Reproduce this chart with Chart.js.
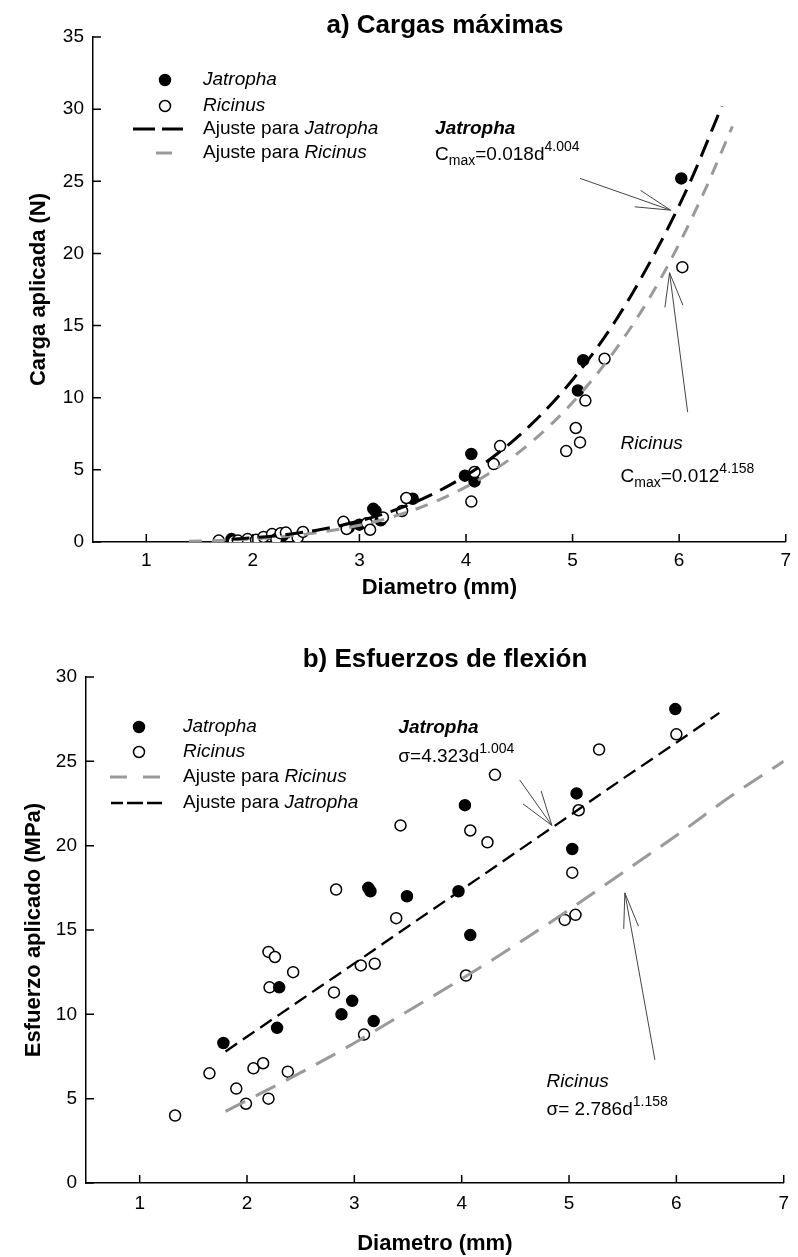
<!DOCTYPE html>
<html><head><meta charset="utf-8">
<script src="https://cdn.jsdelivr.net/npm/chart.js@4.4.1/dist/chart.umd.min.js"></script>
<style>
html,body{margin:0;padding:0;background:#fff;}
#wrap{position:relative;width:798px;height:1257px;overflow:hidden;}
.box{position:absolute;left:0;width:798px;}
canvas{display:block;}
</style></head><body>
<div id="wrap">
<div class="box" style="top:0;height:610px"><canvas id="c1" width="798" height="610"></canvas></div>
<div class="box" style="top:610px;height:647px"><canvas id="c2" width="798" height="647"></canvas></div>
</div>
<script>
// ---------- DATA ----------
const xTicks = [1, 2, 3, 4, 5, 6, 7];
const yTicksA = [0, 5, 10, 15, 20, 25, 30, 35];
const yTicksB = [0, 5, 10, 15, 20, 25, 30];

// a) Cargas máximas
const jatDiamA = [1.80, 2.28, 2.30, 2.90, 3.00, 3.13, 3.15, 3.20, 3.50, 3.99, 4.05, 4.08, 5.05, 5.10, 6.02];
const jatLoadA = [0.20, 0.45, 0.60, 1.00, 1.20, 2.30, 2.15, 1.50, 3.00, 4.60, 6.10, 4.20, 10.5, 12.6, 25.2];
const ricDiamA = [1.68, 1.82, 1.86, 1.95, 2.03, 2.10, 2.18, 2.22, 2.26, 2.31, 2.42, 2.47, 2.85, 2.88, 3.07, 3.10, 3.22, 3.40, 3.44, 4.05, 4.08, 4.26, 4.32, 4.94, 5.03, 5.07, 5.12, 5.30, 6.03];
const ricLoadA = [0.10, 0.05, 0.10, 0.20, 0.15, 0.35, 0.55, 0.20, 0.60, 0.65, 0.30, 0.70, 1.40, 0.90, 1.30, 0.85, 1.70, 2.15, 3.05, 2.80, 4.85, 5.40, 6.65, 6.30, 7.90, 6.90, 9.80, 12.7, 19.05];
const jatFitDiamA = [1.8, 2.2, 2.6, 3.0, 3.4, 3.8, 4.2, 4.6, 5.0, 5.4, 5.8, 6.1, 6.4];
const jatFitLoadA = [0.19, 0.42, 0.82, 1.46, 2.40, 3.75, 5.6, 8.06, 11.25, 15.3, 20.4, 24.9, 30.2];
const ricFitDiamA = [1.4, 1.8, 2.2, 2.6, 3.0, 3.4, 3.8, 4.2, 4.6, 5.0, 5.4, 5.8, 6.2, 6.5];
const ricFitLoadA = [0.05, 0.14, 0.32, 0.64, 1.16, 1.95, 3.09, 4.68, 6.84, 9.67, 13.3, 17.9, 23.7, 28.8];

// b) Esfuerzos de flexión
const jatDiamB = [1.78, 2.28, 2.30, 2.88, 2.98, 3.13, 3.15, 3.18, 3.49, 3.97, 4.03, 4.08, 5.03, 5.07, 5.99];
const jatStressB = [8.3, 9.2, 11.6, 10.0, 10.8, 17.5, 17.3, 9.6, 17.0, 17.3, 22.4, 14.7, 19.8, 23.1, 28.1];
const ricDiamB = [1.33, 1.65, 1.90, 1.99, 2.06, 2.15, 2.20, 2.20, 2.26, 2.21, 2.38, 2.43, 2.83, 2.81, 3.06, 3.09, 3.19, 3.39, 3.43, 4.04, 4.08, 4.24, 4.31, 4.96, 5.03, 5.06, 5.09, 5.28, 6.00];
const ricStressB = [4.0, 6.5, 5.6, 4.7, 6.8, 7.1, 5.0, 13.7, 13.4, 11.6, 6.6, 12.5, 17.4, 11.3, 12.9, 8.8, 13.0, 15.7, 21.2, 12.3, 20.9, 20.2, 24.2, 15.6, 18.4, 15.9, 22.1, 25.7, 26.6];
const jatFitDiamB = [1.8, 2.5, 3.0, 3.5, 4.0, 4.5, 5.0, 5.5, 6.0, 6.4];
const jatFitStressB = [7.80, 10.85, 13.02, 15.21, 17.39, 19.58, 21.76, 23.96, 26.11, 27.87];
const ricFitDiamB = [1.8, 2.5, 3.0, 3.5, 4.0, 4.5, 5.0, 5.5, 6.0, 6.5, 7.0];
const ricFitStressB = [4.25, 6.54, 8.3, 10.2, 12.1, 14.1, 16.2, 18.4, 20.6, 22.9, 25.0];

// ---------- HELPERS ----------
const F = '"Liberation Sans", Arial, Helvetica, sans-serif';
Chart.defaults.font.family = F;
const zip = (xs, ys) => xs.map((x, i) => ({x: x, y: ys[i]}));

function fnt(st, size) {
  const it = st.includes('i') ? 'italic ' : '';
  const b = st.includes('b') ? 'bold ' : '';
  return it + b + size + 'px ' + F;
}
function drawParts(ctx, x, y, parts, size) {
  let cx = x;
  for (const [t, st] of parts) {
    let s = size, dy = 0, style = st;
    if (st === 'sub') { s = Math.round(size * 0.74); dy = 5; style = ''; }
    else if (st === 'sup') { s = Math.round(size * 0.74); dy = -9; style = ''; }
    ctx.font = fnt(style, s);
    ctx.fillText(t, cx, y + dy);
    cx += ctx.measureText(t).width;
  }
}
function arrow(ctx, x1, y1, x2, y2, len, ang) {
  ctx.beginPath();
  ctx.moveTo(x1, y1); ctx.lineTo(x2, y2);
  const a = Math.atan2(y1 - y2, x1 - x2);
  [-1, 1].forEach(s => {
    ctx.moveTo(x2, y2);
    ctx.lineTo(x2 + len * Math.cos(a + s * ang), y2 + len * Math.sin(a + s * ang));
  });
  ctx.stroke();
}

const decoPlugin = {
  id: 'deco',
  afterDraw(chart, args, o) {
    const ctx = chart.ctx, xs = chart.scales.x, ys = chart.scales.y, ca = chart.chartArea;
    ctx.save();
    // inward tick marks
    ctx.strokeStyle = '#000'; ctx.lineWidth = 1.5;
    ctx.beginPath();
    xs.ticks.forEach(t => { const p = xs.getPixelForValue(t.value); ctx.moveTo(p, ca.bottom); ctx.lineTo(p, ca.bottom - o.tickLen); });
    ys.ticks.forEach(t => { const p = ys.getPixelForValue(t.value); ctx.moveTo(ca.left, p); ctx.lineTo(ca.left + o.tickLen, p); });
    ctx.stroke();
    // title
    ctx.fillStyle = '#000'; ctx.textAlign = 'center'; ctx.textBaseline = 'middle';
    ctx.font = 'bold ' + o.title.size + 'px ' + F;
    ctx.fillText(o.title.text, o.title.x != null ? o.title.x : (ca.left + ca.right) / 2, o.title.y);
    // legend
    ctx.textAlign = 'left';
    o.legend.forEach(it => {
      if (it.kind === 'dot') {
        ctx.beginPath(); ctx.arc(it.mx, it.y, 5.5, 0, 2 * Math.PI);
        ctx.fillStyle = it.fill; ctx.fill();
        ctx.lineWidth = 1.5; ctx.strokeStyle = '#000'; ctx.stroke();
      } else {
        ctx.strokeStyle = it.color; ctx.lineWidth = it.width;
        ctx.beginPath();
        it.segs.forEach(([a, b]) => { ctx.moveTo(a, it.y); ctx.lineTo(b, it.y); });
        ctx.stroke();
      }
      ctx.fillStyle = '#000'; ctx.textBaseline = 'middle';
      drawParts(ctx, it.tx, it.y, it.parts, o.fontSize);
    });
    // notes
    ctx.textBaseline = 'alphabetic'; ctx.fillStyle = '#000';
    o.notes.forEach(n => drawParts(ctx, xs.getPixelForValue(n.x), ys.getPixelForValue(n.y), n.parts, o.fontSize));
    // arrows
    ctx.strokeStyle = '#444'; ctx.lineWidth = 1;
    o.arrows.forEach(a => arrow(ctx, xs.getPixelForValue(a.x1), ys.getPixelForValue(a.y1),
      xs.getPixelForValue(a.x2), ys.getPixelForValue(a.y2), a.len, a.ang * Math.PI / 180));
    ctx.restore();
  }
};

function makeScales(cfg) {
  return {
    x: {
      type: 'linear', min: 0.5, max: 7,
      afterBuildTicks: s => { s.ticks = xTicks.map(v => ({value: v})); },
      afterFit: s => { s.height = cfg.xH; },
      grid: {display: false, drawTicks: false},
      border: {display: true, color: '#000', width: 1.5},
      ticks: {padding: cfg.xPad, color: '#000', font: {family: F, size: 19}, callback: v => String(v), maxRotation: 0, autoSkip: false},
      title: {display: true, text: 'Diametro (mm)', color: '#000', font: {family: F, size: 22, weight: 'bold'}, padding: {top: 0, bottom: cfg.xTitlePad}}
    },
    y: {
      type: 'linear', min: 0, max: cfg.yMax,
      afterBuildTicks: s => { s.ticks = cfg.yTicks.map(v => ({value: v})); },
      afterFit: s => { s.width = cfg.yW; },
      grid: {display: false, drawTicks: false},
      border: {display: true, color: '#000', width: 1.5},
      ticks: {padding: 9, color: '#000', font: {family: F, size: 19}, callback: v => String(v), autoSkip: false},
      title: {display: true, text: cfg.yTitle, color: '#000', font: {family: F, size: 22, weight: 'bold'}, padding: {top: cfg.yTitlePad, bottom: 0}}
    }
  };
}

function fitSet(label, xs, ys, color, width, dash) {
  return {label: label, data: zip(xs, ys), showLine: true, borderColor: color, borderWidth: width,
    borderDash: dash, pointRadius: 0, fill: false, tension: 0.4, cubicInterpolationMode: 'monotone'};
}
function ptSet(label, xs, ys, fill) {
  return {label: label, data: zip(xs, ys), showLine: false, pointRadius: 5.5, pointStyle: 'circle',
    backgroundColor: fill, borderColor: '#000', pointBorderWidth: 1.5};
}

// ---------- CHART a ----------
new Chart(document.getElementById('c1'), {
  type: 'scatter',
  data: {datasets: [
    fitSet('Ajuste para Jatropha', jatFitDiamA, jatFitLoadA, '#000', 3, [18, 9]),
    fitSet('Ajuste para Ricinus', ricFitDiamA, ricFitLoadA, '#9a9a9a', 3, [13, 10]),
    ptSet('Ricinus', ricDiamA, ricLoadA, '#fff'),
    ptSet('Jatropha', jatDiamA, jatLoadA, '#000')
  ]},
  options: {
    responsive: false, animation: false, events: [],
    layout: {padding: {top: 37, right: 3, left: 0, bottom: 0}},
    scales: makeScales({xH: 68, xPad: 7, xTitlePad: 9, yMax: 35, yTicks: yTicksA, yW: 93, yTitle: 'Carga aplicada (N)', yTitlePad: 26}),
    plugins: {
      legend: {display: false}, tooltip: {enabled: false},
      deco: {
        tickLen: 8, fontSize: 19,
        title: {text: 'a) Cargas máximas', size: 26, x: 445, y: 26},
        legend: [
          {kind: 'dot', fill: '#000', mx: 165, y: 80, tx: 203, parts: [['Jatropha', 'i']]},
          {kind: 'dot', fill: '#fff', mx: 165, y: 106, tx: 203, parts: [['Ricinus', 'i']]},
          {kind: 'line', color: '#000', width: 3, segs: [[133, 155], [162, 183]], y: 129, tx: 203, parts: [['Ajuste para ', ''], ['Jatropha', 'i']]},
          {kind: 'line', color: '#9a9a9a', width: 3, segs: [[156, 172]], y: 153, tx: 203, parts: [['Ajuste para ', ''], ['Ricinus', 'i']]}
        ],
        notes: [
          {x: 3.71, y: 28.3, parts: [['Jatropha', 'bi']]},
          {x: 3.71, y: 26.5, parts: [['C', ''], ['max', 'sub'], ['=0.018d', ''], ['4.004', 'sup']]},
          {x: 5.45, y: 6.45, parts: [['Ricinus', 'i']]},
          {x: 5.45, y: 4.16, parts: [['C', ''], ['max', 'sub'], ['=0.012', ''], ['4.158', 'sup']]}
        ],
        arrows: [
          {x1: 5.07, y1: 25.2, x2: 5.92, y2: 23.0, len: 36, ang: 14},
          {x1: 6.08, y1: 9.0, x2: 5.91, y2: 18.66, len: 35, ang: 15}
        ]
      }
    }
  },
  plugins: [decoPlugin]
});

// ---------- CHART b ----------
new Chart(document.getElementById('c2'), {
  type: 'scatter',
  data: {datasets: [
    fitSet('Ajuste para Jatropha', jatFitDiamB, jatFitStressB, '#000', 2.3, [14, 7]),
    fitSet('Ajuste para Ricinus', ricFitDiamB, ricFitStressB, '#9a9a9a', 3, [22, 12]),
    ptSet('Jatropha', jatDiamB, jatStressB, '#000'),
    ptSet('Ricinus', ricDiamB, ricStressB, '#fff')
  ]},
  options: {
    responsive: false, animation: false, events: [],
    layout: {padding: {top: 67, right: 10, left: 0, bottom: 0}},
    scales: makeScales({xH: 74, xPad: 9, xTitlePad: 0, yMax: 30, yTicks: yTicksB, yW: 86, yTitle: 'Esfuerzo aplicado (MPa)', yTitlePad: 21}),
    plugins: {
      legend: {display: false}, tooltip: {enabled: false},
      deco: {
        tickLen: 8, fontSize: 19,
        title: {text: 'b) Esfuerzos de flexión', size: 26, x: 445, y: 50},
        legend: [
          {kind: 'dot', fill: '#000', mx: 139, y: 117, tx: 183, parts: [['Jatropha', 'i']]},
          {kind: 'dot', fill: '#fff', mx: 139, y: 142, tx: 183, parts: [['Ricinus', 'i']]},
          {kind: 'line', color: '#9a9a9a', width: 3, segs: [[110, 127], [143, 160]], y: 167, tx: 183, parts: [['Ajuste para ', ''], ['Ricinus', 'i']]},
          {kind: 'line', color: '#000', width: 2.3, segs: [[111, 123], [127, 143], [147, 162]], y: 193, tx: 183, parts: [['Ajuste para ', ''], ['Jatropha', 'i']]}
        ],
        notes: [
          {x: 3.41, y: 26.7, parts: [['Jatropha', 'bi']]},
          {x: 3.41, y: 24.95, parts: [['σ=4.323d', ''], ['1.004', 'sup']]},
          {x: 4.79, y: 5.7, parts: [['Ricinus', 'i']]},
          {x: 4.79, y: 4.03, parts: [['σ= 2.786d', ''], ['1.158', 'sup']]}
        ],
        arrows: [
          {x1: 4.54, y1: 23.9, x2: 4.84, y2: 21.2, len: 36, ang: 18},
          {x1: 5.80, y1: 7.3, x2: 5.52, y2: 17.2, len: 36, ang: 12}
        ]
      }
    }
  },
  plugins: [decoPlugin]
});
</script>
</body></html>
